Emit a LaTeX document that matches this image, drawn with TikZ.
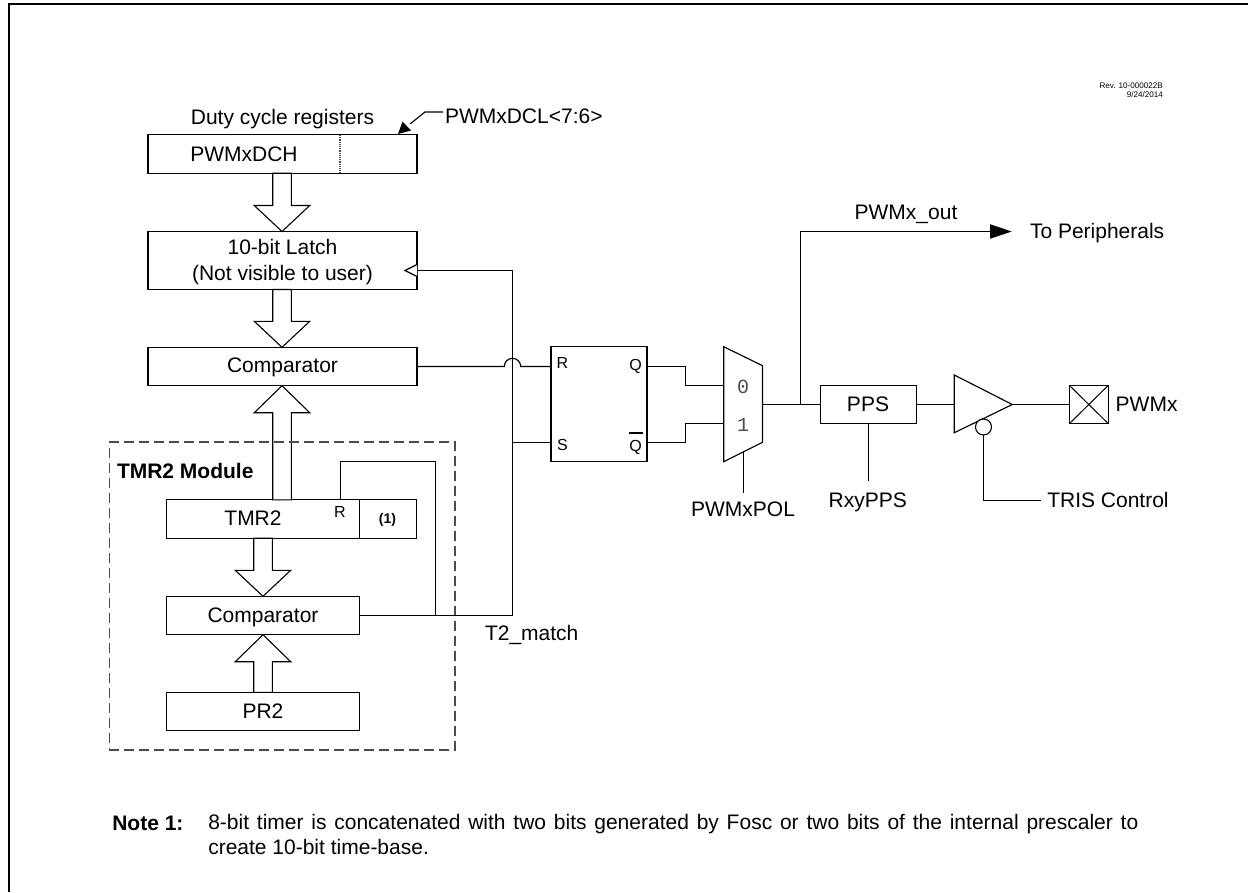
\documentclass[tikz,border=0pt]{standalone}
\usepackage{fontspec}
\setmainfont{Liberation Sans}
\newfontfamily\monof{Liberation Mono}
\usetikzlibrary{arrows.meta}
\tikzset{
 wire/.style={line width=1.15pt,black,line join=miter},
 blk/.style={draw=black,line width=1.15pt,fill=white,inner sep=0pt,outer sep=0pt},
 bus/.style={draw=black,line width=1.1pt,fill=white,line join=miter},
 txt/.style={inner sep=0pt,outer sep=0pt,font=\fontsize{21}{25}\selectfont,anchor=mid,yshift=-5.3pt},
 txtw/.style={txt,anchor=mid west},
 small/.style={inner sep=0pt,outer sep=0pt,font=\fontsize{16}{18}\selectfont,anchor=mid,yshift=-3.6pt},
 mono/.style={inner sep=0pt,outer sep=0pt,font=\monof\fontsize{20}{24}\selectfont,text=black!70,anchor=mid,yshift=-4.3pt},
 bold/.style={inner sep=0pt,outer sep=0pt,font=\bfseries\fontsize{21}{26}\selectfont,anchor=mid west,yshift=-5.3pt},
}
\newcommand{\busdown}[3]{\draw[bus] ([xshift=-9.3pt]#3 |- #1.south) -- ([xshift=-9.3pt,yshift=26pt]#3 |- #2.north) -- ([xshift=-27.7pt,yshift=26pt]#3 |- #2.north) -- (#3 |- #2.north) -- ([xshift=27.7pt,yshift=26pt]#3 |- #2.north) -- ([xshift=9.3pt,yshift=26pt]#3 |- #2.north) -- ([xshift=9.3pt]#3 |- #1.south) -- cycle;}
\newcommand{\busup}[3]{\draw[bus] ([xshift=-9.3pt]#3 |- #1.north) -- ([xshift=-9.3pt,yshift=-27pt]#3 |- #2.south) -- ([xshift=-27.7pt,yshift=-27pt]#3 |- #2.south) -- (#3 |- #2.south) -- ([xshift=27.7pt,yshift=-27pt]#3 |- #2.south) -- ([xshift=9.3pt,yshift=-27pt]#3 |- #2.south) -- ([xshift=9.3pt]#3 |- #1.north) -- cycle;}
\begin{document}
\begin{tikzpicture}[x=1pt,y=-1pt]
\useasboundingbox (0,0) rectangle (1248,892);
\draw[line width=2.4pt,black,line join=miter] (1248,4) -- (9,4) -- (9,892);
% boxes
\node[blk,minimum width=269pt,minimum height=38.4pt] (dch) at (282.5,154) {};
\node[blk,minimum width=269pt,minimum height=58pt] (latch) at (282.5,260.5) {};
\node[blk,minimum width=269pt,minimum height=38.4pt] (cmpa) at (282.5,366.5) {};
\node[blk,minimum width=192.4pt,minimum height=38.4pt] (tmr) at (263,519) {};
\node[blk,minimum width=57.8pt,minimum height=38.4pt] (tmrext) at (388,519) {};
\node[blk,minimum width=192.4pt,minimum height=38.4pt] (cmpb) at (263,615.5) {};
\node[blk,minimum width=192.4pt,minimum height=38.4pt] (prtwo) at (263,711.5) {};
\node[blk,minimum width=96pt,minimum height=115pt] (ff) at (599,404.2) {};
\node[blk,minimum width=96.3pt,minimum height=38.4pt] (pps) at (868.5,404.5) {};
\node[blk,minimum width=39pt,minimum height=38.4pt] (pad) at (1088.8,404.5) {};
\draw[wire,line width=1pt] (pad.north west) -- (pad.south east) (pad.north east) -- (pad.south west);
\draw[black!70,line width=1.2pt,densely dotted] (340,135) -- (340,173);
% bus arrows
\coordinate (xa) at (282,0);
\coordinate (xb) at (263,0);
\busdown{dch}{latch}{xa}
\busdown{latch}{cmpa}{xa}
\busup{tmr}{cmpa}{xa}
\busdown{tmr}{cmpb}{xb}
\busup{prtwo}{cmpb}{xb}
% dashed module
\node[draw=black!70,line width=1.2pt,dash pattern=on 10pt off 5pt,inner sep=0pt,minimum width=345.7pt,minimum height=308pt] (module) at (282.2,596) {};
% flip-flop ports and junctions
\coordinate (ffR) at (551,366.5);
\coordinate (ffS) at (551,442.5);
\coordinate (ffQ) at (647,366.5);
\coordinate (ffN) at (647,442.5);
\coordinate (busx) at (512.5,615.5);
\coordinate (clk) at (512.5,270.5);
\coordinate (rtop) at (340.5,461.5);
\coordinate (rside) at (435.5,461.5);
\coordinate (rfoot) at (435.5,615.5);
% mux
\coordinate (ma) at (723.7,346.7);
\coordinate (mb) at (762.5,365.7);
\coordinate (mc) at (762.5,442.3);
\coordinate (md) at (723.7,461.7);
\coordinate (mi) at (723.7,385.5);
\coordinate (mj) at (723.7,423.5);
\coordinate (mo) at (762.5,404.5);
\coordinate (ms) at (743.5,452);
\draw[wire,fill=white] (ma) -- (mb) -- (mc) -- (md) -- cycle;
% driver
\coordinate (ta) at (954.3,375);
\coordinate (tb) at (954.3,432.7);
\coordinate (tc) at (1012.3,404.5);
\draw[wire,fill=white] (ta) -- (tc) -- (tb) -- cycle;
\node[draw=black,line width=1.1pt,fill=white,circle,inner sep=0pt,outer sep=0pt,minimum size=16pt] (bub) at (983.5,427) {};
% wires
\draw[wire] (cmpb.east) -- (busx) -- (clk) -- (latch.east |- clk);
\draw[wire,fill=white] (latch.east |- 0,264.5) -- (405,270.5) -- (latch.east |- 0,276.5);
\draw[wire] (busx |- ffS) -- (ffS);
\draw[wire] (cmpa.east) -- (504.3,366.5) arc[start angle=180,end angle=0,radius=8.2pt] -- (ffR);
\draw[wire] (rfoot) -- (rside) -- (rtop) -- (rtop |- tmr.north);
\draw[wire] (ffQ) -- (685.5,366.5) -- (685.5,385.5) -- (mi);
\draw[wire] (ffN) -- (685.5,442.5) -- (685.5,423.5) -- (mj);
\draw[wire] (mo) -- (pps.west);
\coordinate (tap) at (800.5,404.5);
\coordinate (outc) at (800.5,231.5);
\coordinate (outend) at (1011.7,231.5);
\draw[wire] (tap) -- (outc) -- (990,231.5);
\fill[black] (outend) -- (990,224.2) -- (990,238.8) -- cycle;
\draw[wire] (pps.east) -- (ta |- pps.east);
\draw[wire] (tc) -- (pad.west);
\coordinate (selend) at (743.5,492.7);
\draw[wire] (ms) -- (selend);
\coordinate (rxy) at (868.5,481);
\draw[wire] (pps.south) -- (rxy);
\coordinate (trisc) at (983.5,500.5);
\coordinate (trise) at (1041,500.5);
\draw[wire] (bub.south) -- (trisc) -- (trise);
% leader
\coordinate (lead) at (443,112);
\coordinate (leadb) at (425,112);
\coordinate (leadt) at (398,134);
\draw[wire] (lead) -- (leadb) -- (410,124);
\fill[black] (leadt) -- (402.5,121.5) -- (411,130.5) -- cycle;
% text
\node[txt] (tduty) at (282.5,117) {Duty cycle registers};
\node[txtw] (tdcl) at (445,116) {PWMxDCL<7:6>};
\node[txt] (tdch) at (244,154) {PWMxDCH};
\node[txt] (tlat1) at (282.5,247) {10-bit Latch};
\node[txt] (tlat2) at (282.5,273) {(Not visible to user)};
\node[txt] (tcmpa) at (282.5,365) {Comparator};
\node[bold] (tmod) at (117,471) {TMR2 Module};
\node[txt] (ttmr) at (253,518) {TMR2};
\node[small] (trr) at (340,511.5) {R};
\node[inner sep=0pt,font=\bfseries\fontsize{14}{16}\selectfont] (tone) at (387.5,519.5) {(1)};
\node[txt] (tcmpb) at (263,615) {Comparator};
\node[txt] (tpr) at (263,710.5) {PR2};
\node[txt] (tmatch) at (531.7,633) {T2\_match};
\node[small] (fr) at (562.5,362.7) {R};
\node[small] (fq) at (635.5,364) {Q};
\node[small] (fs) at (562.5,444) {S};
\node[small] (fn) at (635.5,445) {Q};
\draw[wire] (628.5,433) -- (642.5,433);
\node[mono] (mz) at (743,387) {0};
\node[mono] (mu) at (743,424.5) {1};
\node[txt] (tpol) at (743,509) {PWMxPOL};
\node[txt] (trxy) at (867.7,500) {RxyPPS};
\node[txtw] (ttris) at (1047.3,500) {TRIS Control};
\node[txt] (tpps) at (868,404) {PPS};
\node[txtw] (tpwm) at (1115.7,404) {PWMx};
\node[txt] (tout) at (906,212) {PWMx\_out};
\node[txtw] (tper) at (1030,231) {To Peripherals};
\node[inner sep=0pt,font=\fontsize{8.1}{9}\selectfont,align=right,anchor=north east] (trev) at (1163,82.5) {Rev. 10-000022B\\9/24/2014};
\node[bold] (tnote) at (112.3,823) {Note 1:};
\node[txt,anchor=north west,align=left] (tbody) at (208.3,809) {\hbox to 930pt{8-bit timer is concatenated with two bits generated by Fosc or two bits of the internal prescaler to}\\create 10-bit time-base.};
\end{tikzpicture}
\end{document}
